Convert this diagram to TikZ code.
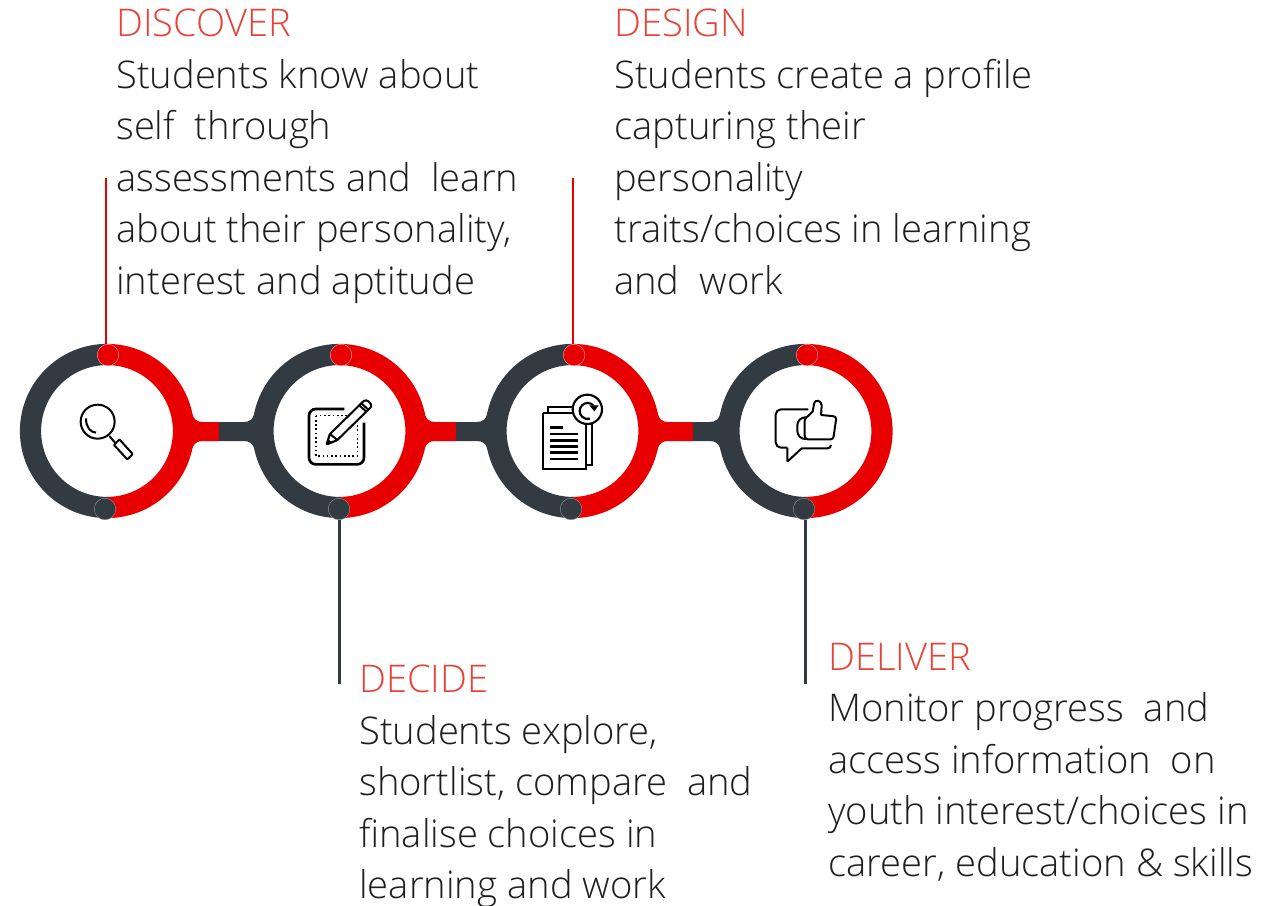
\documentclass[tikz,border=0pt]{standalone}
\usepackage{fontspec}
\setmainfont{Open Sans Light}
\usepackage{tikz}
\definecolor{ringred}{RGB}{232, 0, 0}
\definecolor{ringdark}{RGB}{50, 58, 66}
\definecolor{headred}{RGB}{230, 66, 55}
\definecolor{bodytext}{RGB}{30, 30, 30}

\begin{document}
\begin{tikzpicture}[
   x=0.75pt, y=-0.75pt,
   ringarc/.style={line width=15.9pt},
   dotred/.style={circle, draw=white!70!ringred, fill=ringred, line width=0.3, inner sep=0, minimum size=16.2pt},
   dotdark/.style={circle, draw=white!50!ringdark, fill=ringdark, line width=0.3, inner sep=0, minimum size=16.2pt},
   blurb/.style={anchor=north west, inner sep=0, align=left, text=bodytext,
                 font=\fontsize{28.6}{38.6}\selectfont},
   icon/.style={draw=black, line width=1.5, line join=round, rounded corners=0.5},
   iconbar/.style={draw=black, line width=1.6}
  ]
  \useasboundingbox (0, 0) rectangle (1281, 906);

  % Rings
  \foreach \X in {107, 339.5, 572.5, 805.5} {
    \draw[ringarc, ringred] (\X, 354.5) arc (-90:90:76.5);
    \draw[ringarc, ringdark] (\X, 354.5) arc (-90:-270:76.5);
  }

  % Links between rings
  \foreach \L/\R/\S in {107/339.5/219, 339.5/572.5/456, 572.5/805.5/693} {
    \fill[ringred] (\L+84, 409) .. controls (\L+86, 420) and (\L+90, 422) .. (\L+96, 422)
      -- (\S, 422) -- (\S, 441) -- (\L+96, 441)
      .. controls (\L+90, 441) and (\L+86, 443) .. (\L+84, 453) -- cycle;
    \fill[ringdark] (\R-84, 409) .. controls (\R-86, 420) and (\R-90, 422) .. (\R-96, 422)
      -- (\S, 422) -- (\S, 441) -- (\R-96, 441)
      .. controls (\R-90, 441) and (\R-86, 443) .. (\R-84, 453) -- cycle;
  }

  % Leader lines and their dots
  \coordinate (topA) at (106, 178);
  \coordinate (topC) at (573, 178);
  \coordinate (botB) at (339.5, 684);
  \coordinate (botD) at (805.5, 684);

  \foreach \N/\X in {A/108, B/341, C/574, D/807} {
    \node (dotup\N) at (\X, 355) [dotred] {};
  }
  \foreach \N/\X in {A/105, B/339, C/571, D/804} {
    \node (dotlow\N) at (\X, 509) [dotdark] {};
  }
  \foreach \B/\E in {topA/dotupA, topC/dotupC} {
    \draw[ringred, line width=2.1] (\B) -- (\B |- \E.north);
  }
  \foreach \B/\E in {botB/dotlowB, botD/dotlowD} {
    \draw[ringdark, line width=2.1] (\B) -- (\B |- \E.south);
  }

  % Magnifier
  \begin{scope}[shift={(0, 330)}, x=0.25pt, y=-0.25pt]
    \draw[icon] (293, 275) circle (51);
    \draw[icon] (258, 265) .. controls (258, 290) and (270, 307) .. (288, 308);
    \draw[icon] (328, 318) -- (345, 338);
    \draw[icon] (342, 345) -- (358, 328) -- (398, 372) -- (382, 388) -- cycle;
  \end{scope}

  % Pad and pencil
  \begin{scope}[shift={(0, 330)}, x=0.25pt, y=-0.25pt]
    \draw[icon, line width=2, rounded corners=5] (1033, 237) -- (927, 237) -- (927, 403) -- (1092, 403) -- (1092, 278);
    \draw[black, line width=1.2, dotted] (948, 257) rectangle (1072, 378);
    \draw[icon, fill=white] (980, 343) -- (990, 312) -- (1090, 214) .. controls (1100, 205) and (1118, 222) .. (1112, 232)
      -- (1012, 330) -- cycle;
    \draw[icon, fill=white] (980, 343) -- (990, 312) -- (1012, 330) -- cycle;
    \fill[black] (980, 343) -- (984, 328) -- (995, 336) -- cycle;
    \draw[icon] (1078, 226) -- (1100, 246);
    \draw[icon] (1084, 220) -- (1106, 240);
  \end{scope}

  % Papers with dial
  \begin{scope}[shift={(460, 330)}, x=0.25pt, y=-0.25pt]
    \draw[iconbar] (263, 250) -- (263, 230) -- (340, 230);
    \draw[iconbar] (378, 405) -- (397, 405) -- (397, 280);
    \draw[iconbar] (250, 250) -- (345, 250);
    \draw[iconbar] (250, 250) -- (250, 417) -- (378, 417) -- (378, 285);
    \draw[iconbar, fill=white] (382, 238) circle (44);
    \draw[iconbar] (400, 226) arc (-45:-285:24);
    \fill[black] (388, 226) -- (416, 226) -- (403, 244) -- cycle;
    \draw[iconbar, line width=2.1] (270, 292) -- (308, 292);
    \foreach \Y in {312, 332, 350, 368, 387} {
      \draw[iconbar, line width=2.1] (270, \Y) -- (355, \Y);
    }
  \end{scope}

  % Speech bubble and thumb
  \begin{scope}[shift={(460, 330)}, x=0.25pt, y=-0.25pt]
    \draw[icon, rounded corners=4] (1045, 238) -- (947, 238) -- (947, 353) -- (982, 353);
    \draw[icon] (982, 353) -- (982, 395) -- (1025, 355) -- (1100, 355)
      .. controls (1108, 355) and (1113, 352) .. (1113, 345);
    \draw[icon, rounded corners=6] (1035, 262) -- (1012, 262) -- (1012, 327) -- (1035, 327);
    \draw[icon, fill=white] (1040, 262) -- (1058, 245) -- (1062, 222) .. controls (1064, 208) and (1085, 210) .. (1085, 228)
      -- (1083, 255) -- (1115, 258) .. controls (1125, 258) and (1129, 262) .. (1128, 270)
      -- (1121, 318) .. controls (1120, 325) and (1116, 328) .. (1110, 328)
      -- (1045, 328) .. controls (1038, 328) and (1034, 322) .. (1034, 315)
      -- (1034, 272) .. controls (1034, 268) and (1036, 265) .. (1040, 262) -- cycle;
  \end{scope}

  % Texts
  \node (discover) at (116, 9) [blurb] {\textcolor{headred}{DISCOVER}\\
    Students know about\\ self\ \ through\\ assessments and\ \ learn\\
    about their personality,\\ interest and aptitude};
  \node (design) at (614, 9) [blurb] {\textcolor{headred}{DESIGN}\\
    Students create a profile\\ capturing their\\ personality\\
    traits/choices in learning\\ and\ \ work};
  \node (decide) at (359, 665) [blurb] {\textcolor{headred}{DECIDE}\\
    Students explore,\\ shortlist, compare\ \ and\\ finalise choices in\\ learning and work};
  \node (deliver) at (828, 643) [blurb] {\textcolor{headred}{DELIVER}\\
    Monitor progress\ \ and\\ access information\ \ on\\ youth interest/choices in\\ career, education \& skills};

\end{tikzpicture}
\end{document}
